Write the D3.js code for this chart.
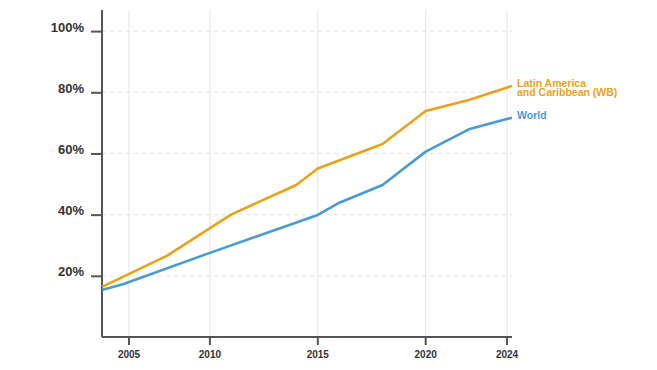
<!DOCTYPE html>
<html>
<head>
<meta charset="utf-8">
<script src="https://cdn.jsdelivr.net/npm/d3@7"></script>
<style>
  body { margin: 0; background: #fff; }
  text { font-family: "Liberation Sans Narrow", "Arial Narrow", "Liberation Sans", sans-serif; font-weight: bold; }
</style>
</head>
<body>
<div id="chart"></div>
<script>
// internet users, share of population
var latamYears = [2005, 2008, 2011, 2014, 2015, 2018, 2020, 2022, 2024];
var latamValues = [16.4, 26.5, 40.1, 49.7, 55.1, 63.1, 73.9, 77.5, 82.1];
var worldYears = [2005, 2006, 2010, 2015, 2016, 2018, 2020, 2022, 2024];
var worldValues = [15.4, 17.3, 27.5, 39.9, 43.9, 49.7, 60.6, 67.9, 71.7];
var xTickYears = [2005, 2010, 2015, 2020, 2024];
var yTickValues = [20, 40, 60, 80, 100];
var latamLabel = ["Latin America", "and Caribbean (WB)"];
var worldLabel = ["World"];

var colorLatam = "#e8a31a";
var colorWorld = "#4b9ad0";

var margin = {top: 10, right: 145, bottom: 33, left: 102};
var width = 657 - margin.left - margin.right;
var height = 370 - margin.top - margin.bottom;

var svg = d3.select("#chart")
    .append("svg")
    .attr("width", 657)
    .attr("height", 370)
    .append("g")
    .attr("transform", "translate(" + margin.left + "," + margin.top + ")");

var x = d3.scaleLinear()
    .domain([2005, 2024])
    .range([0, width]);

var y = d3.scaleLinear()
    .domain([0, 106.9])
    .range([height, 0]);

// first and last year labels are pulled inwards
function tickX(d) {
    if (d === xTickYears[0]) return x(d) + 27;
    if (d === xTickYears[xTickYears.length - 1]) return x(d) - 5;
    return x(d);
}

// vertical grid
svg.append("g")
    .selectAll("line")
    .data(xTickYears)
    .enter().append("line")
    .attr("x1", tickX)
    .attr("x2", tickX)
    .attr("y1", 0)
    .attr("y2", height)
    .attr("stroke", "#e6e6e6")
    .attr("stroke-width", 1);

// horizontal grid (dashed)
svg.append("g")
    .selectAll("line")
    .data(yTickValues)
    .enter().append("line")
    .attr("x1", 0)
    .attr("x2", width)
    .attr("y1", function(d) { return y(d); })
    .attr("y2", function(d) { return y(d); })
    .attr("stroke", "#e3e3e3")
    .attr("stroke-dasharray", "4,4")
    .attr("stroke-width", 1);

// y axis
var yAxis = svg.append("g")
    .call(d3.axisLeft(y)
        .tickValues(yTickValues)
        .tickSize(11)
        .tickPadding(7)
        .tickFormat(function(d) { return d + "%"; }));
yAxis.select(".domain")
    .attr("d", "M0," + height + "V0")
    .attr("stroke", "#555")
    .attr("stroke-width", 2);
yAxis.selectAll(".tick line").attr("stroke", "#555").attr("stroke-width", 2);
yAxis.selectAll(".tick text")
    .attr("dy", 0)
    .attr("fill", "#333")
    .style("font-size", "13px");

// x axis
var xAxis = svg.append("g")
    .attr("transform", "translate(0," + height + ")")
    .call(d3.axisBottom(x)
        .tickValues(xTickYears)
        .tickSize(8)
        .tickPadding(6)
        .tickFormat(d3.format("d")));
xAxis.select(".domain")
    .attr("d", "M0,0H" + width)
    .attr("stroke", "#555")
    .attr("stroke-width", 2);
xAxis.selectAll(".tick")
    .attr("transform", function(d) { return "translate(" + tickX(d) + ",0)"; });
xAxis.selectAll(".tick line").attr("stroke", "#555").attr("stroke-width", 2);
xAxis.selectAll(".tick text")
    .attr("fill", "#333")
    .style("font-size", "10px");

// lines
var line = d3.line()
    .x(function(d) { return x(d[0]); })
    .y(function(d) { return y(d[1]); });

var series = [
    {years: worldYears, values: worldValues, color: colorWorld, label: worldLabel},
    {years: latamYears, values: latamValues, color: colorLatam, label: latamLabel}
];

series.forEach(function(s) {
    var pts = s.years.map(function(yr, i) { return [yr, s.values[i]]; });
    svg.append("path")
        .datum(pts)
        .attr("fill", "none")
        .attr("stroke", s.color)
        .attr("stroke-width", 2.6)
        .attr("stroke-linejoin", "round")
        .attr("d", line);

    var last = pts[pts.length - 1];
    var lbl = svg.append("text")
        .attr("x", x(last[0]) + 5)
        .attr("y", y(last[1]) + 1)
        .attr("fill", s.color)
        .style("font-size", "10.5px");
    s.label.forEach(function(t, i) {
        lbl.append("tspan")
            .attr("x", x(last[0]) + 5)
            .attr("dy", i === 0 ? 0 : 9.5)
            .text(t);
    });
});
</script>
</body>
</html>
